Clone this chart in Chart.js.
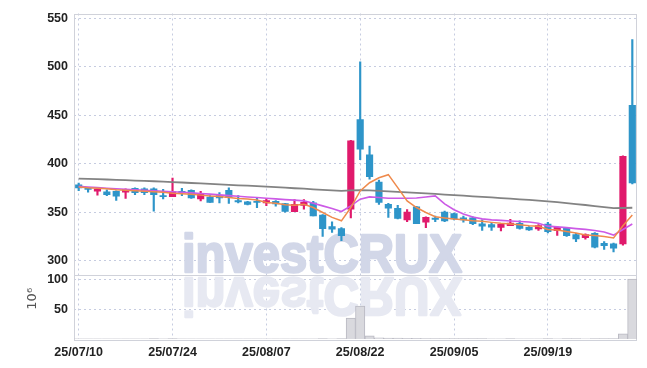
<!DOCTYPE html>
<html>
<head>
<meta charset="utf-8">
<script src="https://cdn.jsdelivr.net/npm/chart.js@4"></script>
<style>
  html, body { margin: 0; padding: 0; background: #fff; }
  #wrap { width: 647px; height: 368px; }
</style>
</head>
<body>
<div id="wrap"><canvas id="chart" width="647" height="368"></canvas></div>
<script>
const dates = [
  '25/07/10','25/07/11','25/07/14','25/07/15','25/07/16','25/07/17','25/07/18','25/07/21','25/07/22','25/07/23',
  '25/07/24','25/07/25','25/07/28','25/07/29','25/07/30','25/07/31','25/08/01','25/08/04','25/08/05','25/08/06',
  '25/08/07','25/08/08','25/08/11','25/08/12','25/08/13','25/08/14','25/08/18','25/08/19','25/08/20','25/08/21',
  '25/08/22','25/08/25','25/08/26','25/08/27','25/08/28','25/08/29','25/09/01','25/09/02','25/09/03','25/09/04',
  '25/09/05','25/09/08','25/09/09','25/09/10','25/09/11','25/09/12','25/09/15','25/09/16','25/09/17','25/09/18',
  '25/09/19','25/09/22','25/09/23','25/09/24','25/09/25','25/09/26','25/09/29','25/09/30','25/10/01','25/10/02'
];
const opens = [
  378, 374.5, 371.5, 371, 371.5, 370.5, 374.5, 374, 374, 367,
  366, 371.5, 372.5, 363.5, 365.5, 367, 372.5, 362, 360.5, 361,
  359.5, 361, 358.8, 350.5, 357, 359.5, 347, 335, 333, 353,
  445.5, 409, 381, 358, 354, 342, 355.5, 339.5, 343.8, 350,
  348.5, 344, 344, 338, 337, 334.3, 336, 338.3, 334.3, 332.6,
  337.7, 330.9, 333.2, 326.8, 323.7, 328.1, 317.9, 317.3, 317.3, 460
];
const highs = [
  380, 375.5, 374, 373, 372, 374, 375, 375, 375, 373.5,
  385, 374.5, 373, 371.5, 367, 370, 375, 367, 361, 365,
  364, 362, 359, 363, 363, 361, 347.5, 340, 334, 424,
  505, 418, 383, 359, 357, 352.5, 356, 345, 346, 351,
  349, 346, 345, 342, 339.5, 338, 342.5, 341, 335, 337,
  339.4, 335, 334, 328, 327.5, 329, 319.5, 318, 408, 528
];
const lows = [
  372, 370.5, 367.5, 367, 362, 364, 368, 368, 351, 363.5,
  366, 367, 364, 361.5, 360, 359.5, 359, 359.5, 357.5, 354.5,
  356.5, 356, 350, 350.5, 353, 346, 325, 329, 320.6, 344,
  404, 384, 358, 344.5, 343, 340, 338, 334, 340, 340,
  342, 339.5, 337, 331, 331, 330.5, 336, 332.5, 331, 331,
  328.5, 326, 325, 319.5, 322, 313, 311.5, 309, 316, 379
];
const closes = [
  375, 373.5, 373.5, 368, 366.5, 373.5, 370, 370, 368, 366,
  371, 370, 364.5, 368.5, 360, 364.5, 365, 360.5, 358, 360,
  362, 358.5, 350.7, 358, 360, 346, 333, 332.5, 325.7, 423.5,
  415, 386.5, 360, 354, 343.5, 350, 338, 344.5, 342.5, 341,
  343, 342, 338, 335.5, 334.5, 337.3, 338.8, 333.2, 331.6, 336,
  329.9, 334.3, 325.8, 322.4, 326.8, 313.8, 315.5, 312.8, 407.5, 380
];
const ma5 = [
  376, 375, 374.5, 374, 373, 372.5, 372, 371.5, 371, 370.5,
  369.5, 369, 368.5, 367.5, 366.5, 366, 365, 364, 363.5, 362.5,
  360, 359, 357.5, 357, 358, 354.7, 349.6, 344.5, 341, 354.7,
  371.8, 380.3, 385.4, 388.6, 375.2, 361.6, 354.7, 349.6, 345.2, 343.9,
  342.8, 342.1, 341.1, 340.5, 339.4, 338.4, 337.7, 337, 336, 335.3,
  332, 331.6, 329.9, 328.5, 326.5, 325.8, 324.8, 323.4, 336, 347
];
const ma20 = [
  376.5, 375.8, 375.2, 374.6, 374, 373.5, 373, 372.5, 372, 371.5,
  371, 370.4, 369.8, 369.2, 368.5, 367.8, 367, 366.3, 365.6, 365,
  364.3, 363.6, 362.9, 362.3, 361.6, 359.2, 356.4, 353.7, 350.6, 356.4,
  363.3, 365.7, 365, 364.3, 364.3, 364.3, 364.5, 365.5, 366.7, 358.5,
  352.5, 348, 345, 343, 342, 341.5, 340.8, 340.3, 339.8, 338.5,
  335.5, 334.8, 334, 333, 332.2, 331, 329.5, 326.3, 332, 337.7
];
const ma60 = [
  384.5, 384.2, 383.9, 383.6, 383.2, 382.9, 382.5, 382.1, 381.8, 381.4,
  381, 380.5, 380, 379.6, 379.1, 378.6, 378.1, 377.6, 377.2, 376.7,
  376.2, 375.7, 375.2, 374.6, 374.1, 373.5, 373, 372.4, 371.9, 372.3,
  372.6, 372.3, 371.8, 371.3, 370.8, 370.3, 369.8, 369.3, 368.7, 368.1,
  367.5, 366.9, 366.3, 365.7, 365.1, 364.5, 363.9, 363.2, 362.5, 361.8,
  361.1, 360.2, 359.3, 358.3, 357.3, 356.2, 355.1, 354, 354.2, 354.5
];
const volumes = [
  0.4, 0.3, 0.3, 0.3, 0.4, 0.3, 0.3, 0.3, 0.5, 0.3,
  0.5, 0.3, 0.3, 0.3, 0.3, 0.3, 0.4, 0.3, 0.3, 0.3,
  0.3, 0.3, 0.4, 0.3, 0.3, 0.4, 0.6, 0.4, 0.5, 35,
  55.5, 5.5, 2, 1.5, 1.5, 1.2, 1, 0.8, 0.7, 0.8,
  0.6, 0.5, 0.5, 0.5, 0.4, 0.4, 0.5, 0.4, 0.4, 0.4,
  0.5, 0.4, 0.5, 0.6, 0.4, 0.8, 0.6, 0.7, 8.8, 100.5
];
const priceTicks = [300, 350, 400, 450, 500, 550];
const volumeTicks = [50, 100];

const UP = '#e01a6c';
const DOWN = '#2e95c9';
const GRID = '#c6cce0';
const FRAME = '#d0d2da';
const LABEL_FONT = "'Liberation Sans', Arial, sans-serif";

const candleColor = closes.map((c, i) => c >= opens[i] ? UP : DOWN);

// watermark, frame and the volume unit label
const decor = {
  id: 'decor',
  beforeDatasetsDraw(chart) {
    const ctx = chart.ctx;
    const a = chart.chartArea;
    const sep = chart.scales.y.bottom;
    ctx.save();
    ctx.font = "bold 53px 'Liberation Sans', Arial, sans-serif";
    ctx.textBaseline = 'alphabetic';
    ctx.lineJoin = 'round';
    ctx.lineWidth = 2.4;
    const w = ctx.measureText('investCRUX').width;
    const sx = 280 / w;
    ctx.save();
    ctx.translate(182, sep - 2.5);
    ctx.scale(sx, 1);
    ctx.fillStyle = ctx.strokeStyle = '#d2d7e8';
    ctx.fillText('investCRUX', 0, 0);
    ctx.strokeText('investCRUX', 0, 0);
    ctx.restore();
    ctx.save();
    ctx.translate(182, sep + 3);
    ctx.scale(sx, -1);
    ctx.fillStyle = ctx.strokeStyle = '#e7e9f2';
    ctx.fillText('investCRUX', 0, 0);
    ctx.strokeText('investCRUX', 0, 0);
    ctx.restore();
    ctx.restore();

    ctx.save();
    ctx.strokeStyle = FRAME;
    ctx.lineWidth = 1;
    ctx.strokeRect(Math.round(a.left) + 0.5, Math.round(a.top) + 0.5,
      Math.round(a.right - a.left) - 1, Math.round(a.bottom - a.top));
    ctx.beginPath();
    ctx.moveTo(a.left, Math.round(sep) + 0.5);
    ctx.lineTo(a.right, Math.round(sep) + 0.5);
    ctx.stroke();
    ctx.restore();
  },
  afterDraw(chart) {
    const ctx = chart.ctx;
    const yv = chart.scales.yv;
    ctx.save();
    ctx.translate(33, (yv.top + yv.bottom) / 2 - 8);
    ctx.rotate(-Math.PI / 2);
    ctx.fillStyle = '#555';
    ctx.font = "13px 'DejaVu Sans', sans-serif";
    ctx.textAlign = 'center';
    ctx.textBaseline = 'middle';
    ctx.fillText('10\u2076', 0, 0);
    ctx.restore();
  }
};

new Chart(document.getElementById('chart'), {
  type: 'bar',
  data: {
    labels: dates,
    datasets: [
      { type: 'line', label: 'MA5', data: ma5, borderColor: '#ef8a4c', borderWidth: 1.5,
        pointRadius: 0, tension: 0, yAxisID: 'y', order: 0 },
      { type: 'line', label: 'MA20', data: ma20, borderColor: '#cc5ae6', borderWidth: 1.6,
        pointRadius: 0, tension: 0, yAxisID: 'y', order: 0 },
      { type: 'line', label: 'MA60', data: ma60, borderColor: '#838383', borderWidth: 1.8,
        pointRadius: 0, tension: 0, yAxisID: 'y', order: 0 },
      { label: 'body', data: opens.map((o, i) => [o, closes[i]]), backgroundColor: candleColor,
        barThickness: 6.5, grouped: false, yAxisID: 'y', order: 1 },
      { label: 'wick', data: lows.map((l, i) => [l, highs[i]]), backgroundColor: candleColor,
        barThickness: 1.5, grouped: false, yAxisID: 'y', order: 2 },
      { label: 'volume', data: volumes, backgroundColor: '#d9d9de', borderColor: '#b9b9c2',
        borderWidth: 1, barPercentage: 1, categoryPercentage: 1, grouped: false, yAxisID: 'yv', order: 3 }
    ]
  },
  options: {
    responsive: false,
    animation: false,
    devicePixelRatio: 1,
    layout: { padding: { left: 0, top: 11, right: 10, bottom: 0 } },
    plugins: { legend: { display: false }, tooltip: { enabled: false } },
    scales: {
      x: {
        offset: true,
        grid: {
          offset: false, drawTicks: false, lineWidth: 1,
          color: c => (c.index % 10 === 0 ? GRID : 'transparent')
        },
        border: { display: false, dash: [2, 3] },
        ticks: {
          autoSkip: false, maxRotation: 0, padding: 6, color: '#222',
          font: { family: LABEL_FONT, size: 12.5, weight: 'bold' },
          callback: (v, i) => (i % 10 === 0 ? dates[i] : '')
        },
        afterFit: s => { s.height = 29; }
      },
      yv: {
        position: 'left', stack: 'panels', stackWeight: 1,
        min: 0, max: 108.3,
        grid: { drawTicks: false, color: GRID, lineWidth: 1 },
        border: { display: false, dash: [2, 3] },
        afterBuildTicks: s => { s.ticks = volumeTicks.map(v => ({ value: v })); },
        ticks: { padding: 6, color: '#222', font: { family: LABEL_FONT, size: 12.5, weight: 'bold' } },
        afterFit: s => { s.width = 74; }
      },
      y: {
        position: 'left', stack: 'panels', stackWeight: 4.05,
        min: 285.6, max: 554.8,
        grid: { drawTicks: false, color: GRID, lineWidth: 1 },
        border: { display: false, dash: [2, 3] },
        afterBuildTicks: s => { s.ticks = priceTicks.map(v => ({ value: v })); },
        ticks: { padding: 6, color: '#222', font: { family: LABEL_FONT, size: 12.5, weight: 'bold' } },
        afterFit: s => { s.width = 74; }
      }
    }
  },
  plugins: [decor]
});
</script>
</body>
</html>
